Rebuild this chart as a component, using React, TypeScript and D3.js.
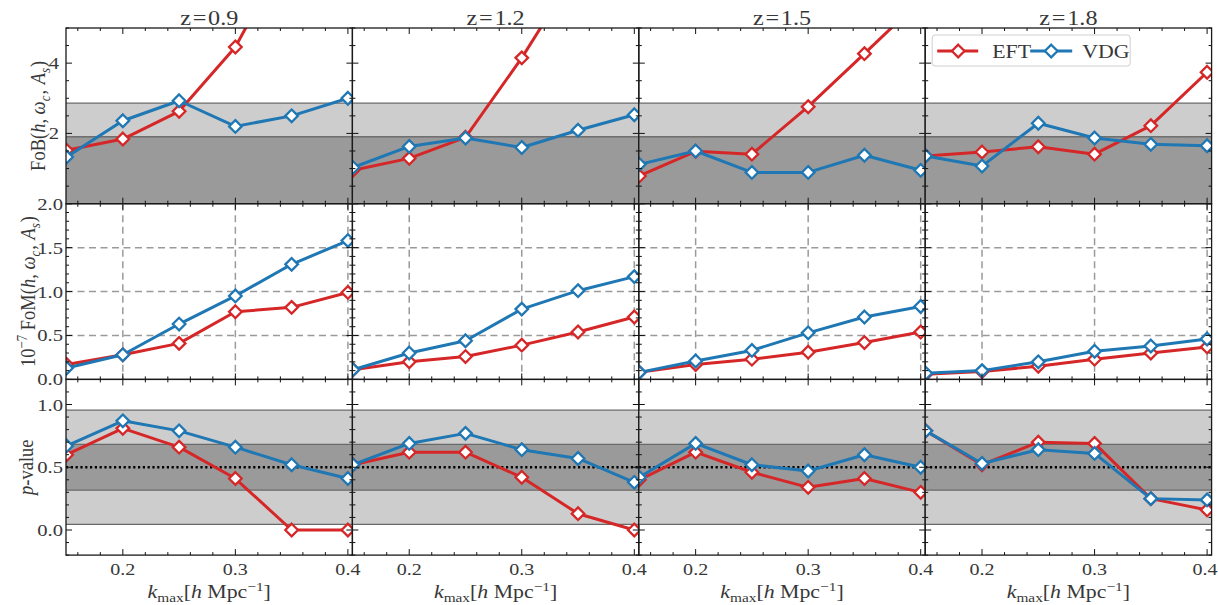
import React from "react";
import * as d3 from "d3";

// k_max sampling shared by every panel
const kmax = [0.15, 0.2, 0.25, 0.3, 0.35, 0.4];
const redshifts = ["0.9", "1.2", "1.5", "1.8"];

// Figure of bias, one row per redshift
const fobEFT = [
  [1.52, 1.84, 2.63, 4.46, 7.4, 10.5],
  [0.95, 1.29, 1.89, 4.15, 6.7, 9.5],
  [0.79, 1.49, 1.41, 2.76, 4.27, 5.8],
  [1.36, 1.47, 1.62, 1.41, 2.22, 3.74],
];
const fobVDG = [
  [1.33, 2.36, 2.93, 2.2, 2.5, 3.0],
  [1.03, 1.63, 1.87, 1.6, 2.09, 2.53],
  [1.12, 1.5, 0.89, 0.89, 1.38, 0.95],
  [1.36, 1.07, 2.29, 1.87, 1.69, 1.65],
];

// Figure of merit (units of 1e7)
const fomEFT = [
  [0.17, 0.28, 0.41, 0.77, 0.82, 0.99],
  [0.11, 0.2, 0.26, 0.39, 0.54, 0.71],
  [0.08, 0.17, 0.23, 0.31, 0.42, 0.54],
  [0.06, 0.09, 0.15, 0.23, 0.3, 0.37],
];
const fomVDG = [
  [0.13, 0.28, 0.63, 0.95, 1.31, 1.58],
  [0.11, 0.3, 0.44, 0.8, 1.01, 1.17],
  [0.08, 0.21, 0.33, 0.53, 0.71, 0.83],
  [0.07, 0.1, 0.2, 0.32, 0.38, 0.46],
];

// Goodness-of-fit p-values
const pvalEFT = [
  [0.6, 0.81, 0.66, 0.41, 0.0, 0.0],
  [0.52, 0.62, 0.62, 0.42, 0.13, 0.0],
  [0.4, 0.62, 0.46, 0.34, 0.41, 0.3],
  [0.79, 0.52, 0.7, 0.69, 0.25, 0.16],
];
const pvalVDG = [
  [0.67, 0.87, 0.79, 0.66, 0.52, 0.41],
  [0.52, 0.69, 0.77, 0.64, 0.57, 0.38],
  [0.42, 0.69, 0.52, 0.47, 0.6, 0.5],
  [0.79, 0.53, 0.64, 0.61, 0.25, 0.24],
];

// Axis ticks
const xTicks = [0.2, 0.3, 0.4];
const fobTicks = [2, 4];
const fomTicks = [0, 0.5, 1.0, 1.5, 2.0];
const pvalTicks = [0, 0.5, 1.0];

// Reference bands
const fobBands = [1.9, 2.86];
const pvalBand1 = [0.3173, 0.6827];
const pvalBand2 = [0.0455, 0.9545];

const RED = "#d62728";
const BLUE = "#1f77b4";
const TXT = "#383838";
const FONT = "'Liberation Serif', 'DejaVu Serif', serif";
const SX = 1.18;

const left0 = 66;
const panelW = 286.4;
const top0 = 28;
const rowH = 175.7;

function T({ x, y, anchor = "start", size = 18.5, rotate = 0, children }: any) {
  return (
    <g transform={`translate(${x},${y}) scale(${SX},1)${rotate ? ` rotate(${rotate})` : ""}`}>
      <text textAnchor={anchor} fontSize={size} fontFamily={FONT} fill={TXT}>
        {children}
      </text>
    </g>
  );
}

const diamond = (r: number) => `M0,${-r}L${r},0L0,${r}L${-r},0Z`;

type Row = {
  domain: [number, number];
  major: number[];
  labels: number[];
  fmt: (v: number) => string;
  minorStep: number;
  eft: number[][];
  vdg: number[][];
  labelRight: number;
};

const rows: Row[] = [
  { domain: [0, 5], major: [0, 2, 4], labels: fobTicks, fmt: d3.format("d"), minorStep: 0.5, eft: fobEFT, vdg: fobVDG, labelRight: 59 },
  { domain: [0, 2], major: fomTicks, labels: fomTicks, fmt: d3.format(".1f"), minorStep: 0.1, eft: fomEFT, vdg: fomVDG, labelRight: 63 },
  { domain: [-0.2, 1.2], major: pvalTicks, labels: pvalTicks, fmt: d3.format(".1f"), minorStep: 0.1, eft: pvalEFT, vdg: pvalVDG, labelRight: 63 },
];

function Series({ xs, ys, vals, color }: any) {
  const line = d3
    .line<number>()
    .x((_, i) => xs(kmax[i]))
    .y((d) => ys(d));
  return (
    <g>
      <path d={line(vals) || ""} fill="none" stroke={color} strokeWidth={3} strokeLinejoin="round" />
      {vals.map((v: number, i: number) => (
        <path
          key={i}
          d={diamond(6.3)}
          transform={`translate(${xs(kmax[i])},${ys(v)})`}
          fill="#fff"
          stroke={color}
          strokeWidth={2.3}
        />
      ))}
    </g>
  );
}

function Panel({ col, row }: { col: number; row: number }) {
  const cfg = rows[row];
  const x0 = left0 + col * panelW;
  const y0 = top0 + row * rowH;
  const xs = d3.scaleLinear().domain([0.1495, 0.404]).range([x0, x0 + panelW]);
  const ys = d3.scaleLinear().domain(cfg.domain).range([y0 + rowH, y0]);
  const clipId = `clip-${row}-${col}`;
  const xMinor = d3.range(0.16, 0.4001, 0.02).filter((v) => !xTicks.some((t) => Math.abs(t - v) < 1e-6));
  const yMinor = d3
    .range(cfg.domain[0], cfg.domain[1] + 1e-6, cfg.minorStep)
    .filter((v) => !cfg.major.some((t) => Math.abs(t - v) < 1e-6));
  const xl = x0, xr = x0 + panelW, yt = y0, yb = y0 + rowH;

  const bandRect = (a: number, b: number, fill: string) => (
    <g>
      <rect x={xl} width={panelW} y={ys(b)} height={ys(a) - ys(b)} fill={fill} />
      <line x1={xl} x2={xr} y1={ys(a)} y2={ys(a)} stroke="#6a6a6a" strokeWidth={1.2} />
      <line x1={xl} x2={xr} y1={ys(b)} y2={ys(b)} stroke="#6a6a6a" strokeWidth={1.2} />
    </g>
  );

  return (
    <g>
      <defs>
        <clipPath id={clipId}>
          <rect x={xl} y={yt} width={panelW} height={rowH} />
        </clipPath>
      </defs>
      <g clipPath={`url(#${clipId})`}>
        {row === 0 && (
          <g>
            {bandRect(fobBands[0], fobBands[1], "#cdcdcd")}
            {bandRect(0, fobBands[0], "#9a9a9a")}
          </g>
        )}
        {row === 2 && (
          <g>
            {bandRect(pvalBand2[0], pvalBand2[1], "#cdcdcd")}
            {bandRect(pvalBand1[0], pvalBand1[1], "#9a9a9a")}
            <line x1={xl} x2={xr} y1={ys(0.5)} y2={ys(0.5)} stroke="#000" strokeWidth={2.6} strokeDasharray="2.2,2.6" />
          </g>
        )}
        {row === 1 && (
          <g stroke="#9a9a9a" strokeWidth={1.5} strokeDasharray="7,4.5">
            {xTicks.map((t) => (
              <line key={`gx${t}`} x1={xs(t)} x2={xs(t)} y1={yt} y2={yb} />
            ))}
            {[0.5, 1.0, 1.5].map((t) => (
              <line key={`gy${t}`} x1={xl} x2={xr} y1={ys(t)} y2={ys(t)} />
            ))}
          </g>
        )}
        <Series xs={xs} ys={ys} vals={cfg.eft[col]} color={RED} />
        <Series xs={xs} ys={ys} vals={cfg.vdg[col]} color={BLUE} />
      </g>
      {/* inward ticks on all four sides */}
      <g stroke="#111" strokeWidth={1}>
        {xTicks.map((t) => (
          <g key={`xt${t}`}>
            <line x1={xs(t)} x2={xs(t)} y1={yb} y2={yb - 6} />
            <line x1={xs(t)} x2={xs(t)} y1={yt} y2={yt + 6} />
          </g>
        ))}
        {xMinor.map((t) => (
          <g key={`xm${t}`}>
            <line x1={xs(t)} x2={xs(t)} y1={yb} y2={yb - 3} />
            <line x1={xs(t)} x2={xs(t)} y1={yt} y2={yt + 3} />
          </g>
        ))}
        {cfg.major.map((t) => (
          <g key={`yt${t}`}>
            <line x1={xl} x2={xl + 6} y1={ys(t)} y2={ys(t)} />
            <line x1={xr} x2={xr - 6} y1={ys(t)} y2={ys(t)} />
          </g>
        ))}
        {yMinor.map((t) => (
          <g key={`ym${t}`}>
            <line x1={xl} x2={xl + 3} y1={ys(t)} y2={ys(t)} />
            <line x1={xr} x2={xr - 3} y1={ys(t)} y2={ys(t)} />
          </g>
        ))}
      </g>
      <rect x={xl} y={yt} width={panelW} height={rowH} fill="none" stroke="#1a1a1a" strokeWidth={1.3} />
      {col === 0 &&
        cfg.labels.map((t) => (
          <T key={`yl${t}`} x={cfg.labelRight} y={ys(t) + 6} anchor="end" size={17.5}>
            {cfg.fmt(t)}
          </T>
        ))}
      {row === 2 &&
        xTicks.map((t) => (
          <T key={`xl${t}`} x={xs(t) - (col === 3 && t === 0.4 ? 2 : 0)} y={575} anchor="middle" size={17}>
            {d3.format(".1f")(t)}
          </T>
        ))}
      {row === 2 && (
        <T x={x0 + panelW / 2} y={598} anchor="middle" size={18.5}>
          <tspan fontStyle="italic">k</tspan>
          <tspan fontSize={13} dy={4}>max</tspan>
          <tspan dy={-4}>[</tspan>
          <tspan fontStyle="italic">h</tspan>
          <tspan> Mpc</tspan>
          <tspan fontSize={13} dy={-7}>−1</tspan>
          <tspan dy={7}>]</tspan>
        </T>
      )}
      {row === 0 && (
        <T x={x0 + panelW / 2} y={25} anchor="middle" size={20.5}>
          <tspan>z</tspan>
          <tspan dx={1.5}>=</tspan>
          <tspan dx={1.5}>{redshifts[col]}</tspan>
        </T>
      )}
    </g>
  );
}

function Legend() {
  const x = left0 + 3 * panelW;
  const yc = 51;
  return (
    <g>
      <rect x={x + 7} y={35} width={198} height={31} rx={3} fill="#fff" fillOpacity={0.85} stroke="#cfcfcf" strokeWidth={1} />
      <line x1={x + 12} x2={x + 53} y1={yc} y2={yc} stroke={RED} strokeWidth={3} />
      <path d={diamond(6.3)} transform={`translate(${x + 33},${yc})`} fill="#fff" stroke={RED} strokeWidth={2.3} />
      <T x={x + 67} y={yc + 6.5}>EFT</T>
      <line x1={x + 105} x2={x + 147} y1={yc} y2={yc} stroke={BLUE} strokeWidth={3} />
      <path d={diamond(6.3)} transform={`translate(${x + 126},${yc})`} fill="#fff" stroke={BLUE} strokeWidth={2.3} />
      <T x={x + 157} y={yc + 6.5}>VDG</T>
    </g>
  );
}

export default function App() {
  return (
    <svg
      width={1218}
      height={605}
      viewBox="0 0 1218 605"
      style={{ position: "absolute", left: 0, top: 0, background: "#fff" }}
    >
      <rect width={1218} height={605} fill="#fff" />
      {[0, 1, 2].map((r) =>
        [0, 1, 2, 3].map((c) => <Panel key={`${r}-${c}`} row={r} col={c} />)
      )}
      <Legend />
      <T x={45} y={top0 + rowH / 2} anchor="middle" rotate={-90}>
        <tspan>FoB(</tspan>
        <tspan fontStyle="italic">h</tspan>
        <tspan>, </tspan>
        <tspan fontStyle="italic">ω</tspan>
        <tspan fontStyle="italic" fontSize={13} dy={4}>c</tspan>
        <tspan dy={-4} dx={1}>, </tspan>
        <tspan fontStyle="italic" dx={1}>A</tspan>
        <tspan fontStyle="italic" fontSize={13} dy={4}>s</tspan>
        <tspan dy={-4} dx={1}>)</tspan>
      </T>
      <T x={35} y={top0 + rowH * 1.5} anchor="middle" rotate={-90}>
        <tspan>10</tspan>
        <tspan fontSize={13} dy={-7}>−7</tspan>
        <tspan dy={7}> FoM(</tspan>
        <tspan fontStyle="italic">h</tspan>
        <tspan>, </tspan>
        <tspan fontStyle="italic">ω</tspan>
        <tspan fontStyle="italic" fontSize={13} dy={4}>c</tspan>
        <tspan dy={-4} dx={1}>, </tspan>
        <tspan fontStyle="italic" dx={1}>A</tspan>
        <tspan fontStyle="italic" fontSize={13} dy={4}>s</tspan>
        <tspan dy={-4} dx={1}>)</tspan>
      </T>
      <T x={33} y={top0 + rowH * 2.5} anchor="middle" rotate={-90}>
        <tspan fontStyle="italic">p</tspan>
        <tspan>-value</tspan>
      </T>
    </svg>
  );
}
